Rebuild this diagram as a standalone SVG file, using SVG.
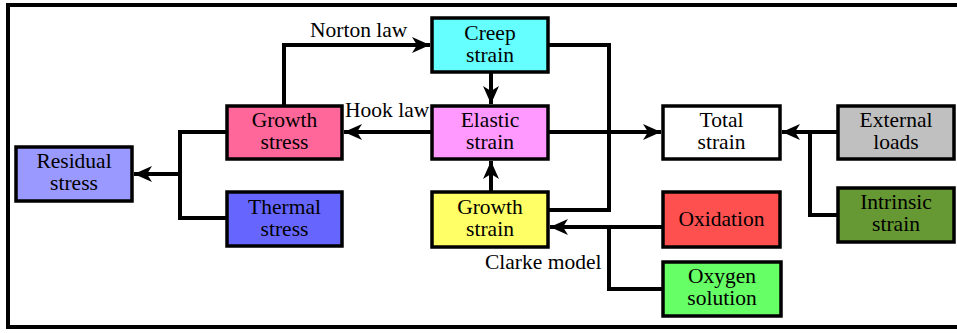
<svg xmlns="http://www.w3.org/2000/svg" width="957" height="333" viewBox="0 0 957 333">
<style>
.box{stroke:#000;stroke-width:3.5}
.t{font-family:"Liberation Serif","Times New Roman",serif;font-size:21.5px;fill:#000;text-anchor:middle}
.l{font-family:"Liberation Serif","Times New Roman",serif;font-size:21.5px;fill:#000}
.c{fill:none;stroke:#000;stroke-width:4}
</style>
<defs>
<marker id="ah" markerUnits="userSpaceOnUse" markerWidth="18" markerHeight="18" viewBox="0 0 18 18" refX="18" refY="9" orient="auto">
<path d="M0,1 L18,9 L0,17 L5,9 Z" fill="#000"/>
</marker>
</defs>
<rect x="8" y="5" width="970" height="322" fill="#fff" stroke="#000" stroke-width="4"/>
<g id="connectors">
<path class="c" d="M284,106 V45 H430" marker-end="url(#ah)"/>
<path class="c" d="M432,132 H344" marker-end="url(#ah)"/>
<path class="c" d="M491,72 V104" marker-end="url(#ah)"/>
<path class="c" d="M548,45 H609 V210 H548"/>
<path class="c" d="M548,132 H661" marker-end="url(#ah)"/>
<path class="c" d="M491,192 V161" marker-end="url(#ah)"/>
<path class="c" d="M227,132 H180 V218 H227"/>
<path class="c" d="M180,174 H134" marker-end="url(#ah)"/>
<path class="c" d="M663,227 H550" marker-end="url(#ah)"/>
<path class="c" d="M609,227 V289 H663"/>
<path class="c" d="M838,132 H782" marker-end="url(#ah)"/>
<path class="c" d="M810,132 V215 H838"/>
<text class="l" x="310" y="37">Norton law</text>
<text class="l" x="345" y="117">Hook law</text>
<text class="l" x="485" y="269">Clarke model</text>
</g>
<g id="creep">
<rect class="box" x="432" y="18" width="116" height="54" fill="#66FFFF"/>
<text class="t" x="490" y="40">Creep</text>
<text class="t" x="490" y="62">strain</text>
</g>
<g id="growthstress">
<rect class="box" x="227" y="106" width="115" height="53" fill="#FF6699"/>
<text class="t" x="284.5" y="127">Growth</text>
<text class="t" x="284.5" y="149">stress</text>
</g>
<g id="elastic">
<rect class="box" x="432" y="106" width="116" height="53" fill="#FF99FF"/>
<text class="t" x="490" y="127">Elastic</text>
<text class="t" x="490" y="149">strain</text>
</g>
<g id="residual">
<rect class="box" x="16" y="147" width="116" height="54" fill="#9999FF"/>
<text class="t" x="74" y="168">Residual</text>
<text class="t" x="74" y="190">stress</text>
</g>
<g id="thermal">
<rect class="box" x="227" y="192" width="115" height="54" fill="#6666FF"/>
<text class="t" x="284.5" y="214">Thermal</text>
<text class="t" x="284.5" y="236">stress</text>
</g>
<g id="growthstrain">
<rect class="box" x="432" y="192" width="116" height="55" fill="#FFFF66"/>
<text class="t" x="490" y="214">Growth</text>
<text class="t" x="490" y="236">strain</text>
</g>
<g id="total">
<rect class="box" x="663" y="106" width="117" height="53" fill="#FFFFFF"/>
<text class="t" x="721.5" y="127">Total</text>
<text class="t" x="721.5" y="149">strain</text>
</g>
<g id="external">
<rect class="box" x="838" y="106" width="116" height="53" fill="#C0C0C0"/>
<text class="t" x="896" y="127">External</text>
<text class="t" x="896" y="149">loads</text>
</g>
<g id="intrinsic">
<rect class="box" x="838" y="188" width="116" height="54" fill="#669933"/>
<text class="t" x="896" y="209">Intrinsic</text>
<text class="t" x="896" y="231">strain</text>
</g>
<g id="oxidation">
<rect class="box" x="663" y="192" width="117" height="55" fill="#FF5050"/>
<text class="t" x="721.5" y="226">Oxidation</text>
</g>
<g id="oxygen">
<rect class="box" x="663" y="262" width="118" height="54" fill="#66FF66"/>
<text class="t" x="722" y="283">Oxygen</text>
<text class="t" x="722" y="305">solution</text>
</g>
</svg>
